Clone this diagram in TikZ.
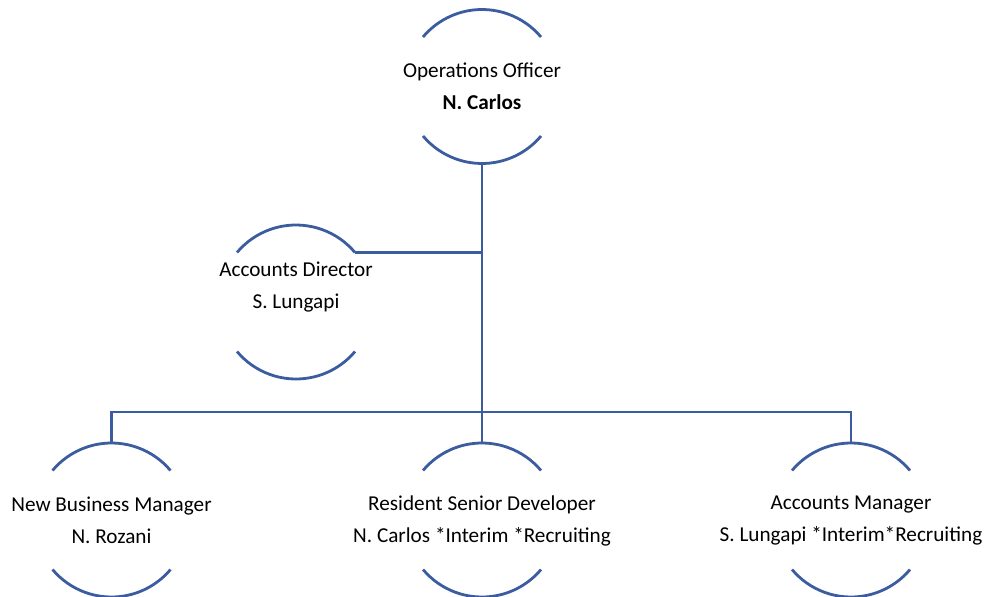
\documentclass[tikz,border=0pt]{standalone}
\usepackage{fontspec}
\setmainfont{Carlito}
\definecolor{lineblue}{RGB}{59,93,160}
\begin{document}
\begin{tikzpicture}[x=0.75pt,y=-0.75pt,
  line/.style={draw=lineblue, line width=2.1pt},
  person/.style={circle, minimum size=115.5pt, inner sep=0pt, outer sep=0pt},
  txt/.style={align=center, font=\fontsize{15.9}{24}\selectfont, text=black, inner sep=0pt}]
\useasboundingbox (0,0) rectangle (987,596);
\node[person] (op)  at (482,86.5) {};
\node[person] (ad)  at (296,302) {};
\node[person] (nbm) at (111.5,520) {};
\node[person] (rsd) at (482,520) {};
\node[person] (am)  at (851,520) {};
\coordinate (bus) at (482,412);
\foreach \n in {op,ad,nbm,rsd,am}{
  \draw[line] (\n.40) arc[start angle=40,end angle=140,radius=57.75pt];
  \draw[line] (\n.220) arc[start angle=220,end angle=320,radius=57.75pt];
}
\draw[line] (op.south) -- (rsd.north);
\draw[line] (ad.40) -- (ad.40 -| op.south);
\draw[line] (nbm.north) |- (bus) -| (am.north);
\node[txt] (opt)  at (482,86.5) {Operations Officer\\\textbf{N. Carlos}};
\node[txt] (adt)  at (296,287) {Accounts Director\\S. Lungapi};
\node[txt] (nbmt) at (111.5,520.5) {New Business Manager\\N. Rozani};
\node[txt] (rsdt) at (482,520.5) {Resident Senior Developer\\N. Carlos *Interim *Recruiting};
\node[txt] (amt)  at (851,520.5) {Accounts Manager\\S. Lungapi *Interim*Recruiting};
\end{tikzpicture}
\end{document}
